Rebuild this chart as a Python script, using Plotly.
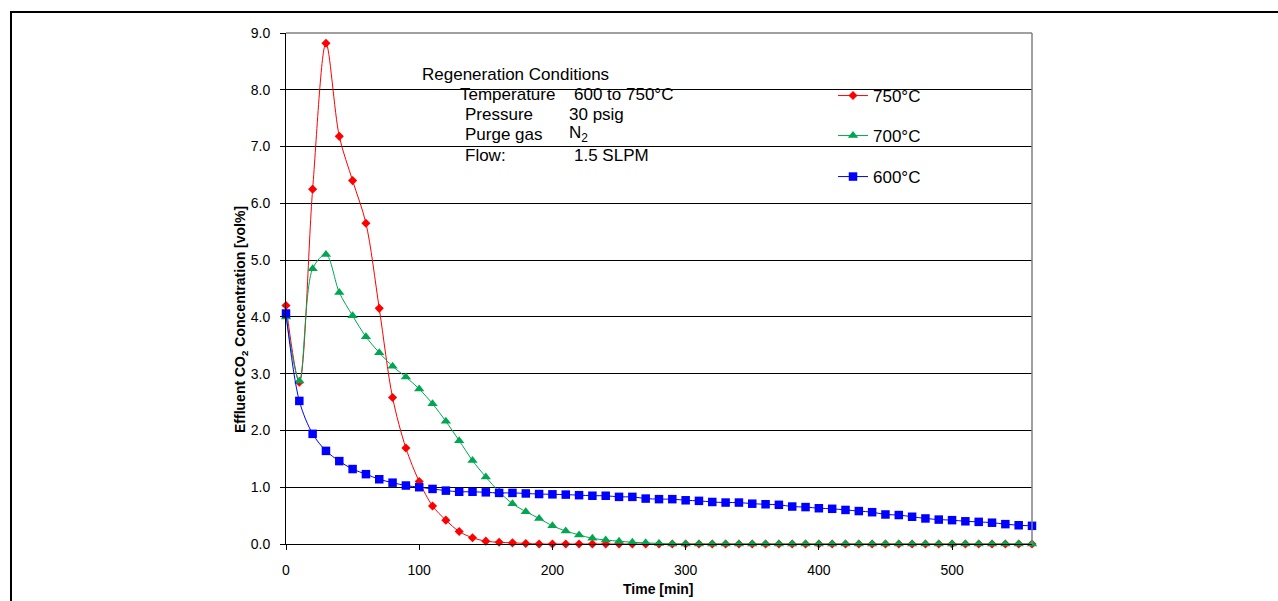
import plotly.graph_objects as go

# ---------------- data ----------------
time_min = [0, 10, 20, 30, 40, 50, 60, 70, 80, 90,
            100, 110, 120, 130, 140, 150, 160, 170, 180, 190,
            200, 210, 220, 230, 240, 250, 260, 270, 280, 290,
            300, 310, 320, 330, 340, 350, 360, 370, 380, 390,
            400, 410, 420, 430, 440, 450, 460, 470, 480, 490,
            500, 510, 520, 530, 540, 550, 560]

co2_750 = [4.20, 2.85, 6.25, 8.82, 7.18, 6.40, 5.65, 4.15, 2.58, 1.69,
           1.10, 0.67, 0.42, 0.22, 0.11, 0.05, 0.03, 0.02, 0.01, 0.0,
           0.0, 0.0, 0.0, 0.0, 0.0, 0.0, 0.0, 0.0, 0.0, 0.0,
           0.0, 0.0, 0.0, 0.0, 0.0, 0.0, 0.0, 0.0, 0.0, 0.0,
           0.0, 0.0, 0.0, 0.0, 0.0, 0.0, 0.0, 0.0, 0.0, 0.0,
           0.0, 0.0, 0.0, 0.0, 0.0, 0.0, 0.0]

co2_700 = [4.00, 2.87, 4.85, 5.10, 4.43, 4.02, 3.65, 3.37, 3.13, 2.94,
           2.73, 2.47, 2.16, 1.82, 1.47, 1.18, 0.92, 0.71, 0.57, 0.45,
           0.32, 0.23, 0.16, 0.10, 0.07, 0.05, 0.03, 0.02, 0.01, 0.0,
           0.0, 0.0, 0.0, 0.0, 0.0, 0.0, 0.0, 0.0, 0.0, 0.0,
           0.0, 0.0, 0.0, 0.0, 0.0, 0.0, 0.0, 0.0, 0.0, 0.0,
           0.0, 0.0, 0.0, 0.0, 0.0, 0.0, 0.0]

co2_600 = [4.06, 2.52, 1.94, 1.64, 1.46, 1.32, 1.23, 1.14, 1.08, 1.03,
           1.00, 0.97, 0.94, 0.92, 0.92, 0.91, 0.90, 0.90, 0.89, 0.88,
           0.875, 0.87, 0.86, 0.85, 0.85, 0.83, 0.83, 0.80, 0.79, 0.79,
           0.77, 0.76, 0.74, 0.73, 0.73, 0.71, 0.70, 0.69, 0.66, 0.65,
           0.63, 0.62, 0.60, 0.58, 0.56, 0.52, 0.51, 0.48, 0.45, 0.43,
           0.42, 0.40, 0.39, 0.375, 0.35, 0.33, 0.32]

series_names = ["750°C", "700°C", "600°C"]
x_ticks = [0, 100, 200, 300, 400, 500]
y_ticks = [0, 1, 2, 3, 4, 5, 6, 7, 8, 9]

box_title = "Regeneration Conditions"
box_labels = ["Temperature", "Pressure", "Purge gas", "Flow:"]
box_values = ["600 to 750°C", "30 psig", "N<sub>2</sub>", "1.5 SLPM"]

# ---------------- layout helpers ----------------
W, H = 1278, 601
L, R, T, B = 286, 1032, 33, 544
FONT = "Arial, 'Liberation Sans', sans-serif"


def px(xp):
    return (xp - L) / (R - L)


def py(yp):
    return (B - yp) / (B - T)


fig = go.Figure()

styles = [
    dict(color="#FF0000", symbol="diamond", size=7, legend="legend"),
    dict(color="#00A651", symbol="triangle-up", size=9, legend="legend2"),
    dict(color="#0000FF", symbol="square", size=8.5, legend="legend3"),
]
for name, vals, st in zip(series_names, [co2_750, co2_700, co2_600], styles):
    fig.add_trace(go.Scatter(
        x=time_min, y=vals, name=name, mode="lines+markers",
        line=dict(color=st["color"], width=1, shape="spline", smoothing=0.9),
        marker=dict(color=st["color"], symbol=st["symbol"], size=st["size"],
                    line=dict(width=0)),
        cliponaxis=False, legend=st["legend"],
    ))

legend_common = dict(xanchor="left", yanchor="middle", bgcolor="rgba(0,0,0,0)",
                     font=dict(family=FONT, size=17, color="black"),
                     borderwidth=0)
legend_y = [96, 136, 177]

fig.update_layout(
    width=W, height=H,
    margin=dict(l=L, r=W - R, t=T, b=H - B, pad=0),
    paper_bgcolor="white", plot_bgcolor="white",
    font=dict(family=FONT, size=14, color="black"),
    legend=dict(x=px(833), y=py(legend_y[0]), **legend_common),
    legend2=dict(x=px(833), y=py(legend_y[1]), **legend_common),
    legend3=dict(x=px(833), y=py(legend_y[2]), **legend_common),
    xaxis=dict(range=[0, 560], tickvals=x_ticks, ticks="outside", ticklen=5,
               tickcolor="black", showline=True, linecolor="black", linewidth=1,
               showgrid=False, zeroline=False, ticklabelstandoff=8,
               tickfont=dict(family=FONT, size=14)),
    yaxis=dict(range=[0, 9], tickvals=y_ticks, tickformat=".1f", ticks="outside",
               ticklen=5, tickcolor="black", showline=True, linecolor="black",
               linewidth=1, showgrid=True, gridcolor="black", gridwidth=1,
               zeroline=False, ticklabelstandoff=7,
               tickfont=dict(family=FONT, size=14)),
    showlegend=True,
)

shapes = [
    # white box behind the conditions text (hides grid lines)
    dict(type="rect", xref="paper", yref="paper", x0=px(416), x1=px(758),
         y0=py(168), y1=py(60), fillcolor="white", line=dict(width=0),
         layer="between"),
    # plot area right and top border
    dict(type="line", xref="paper", yref="paper", x0=1, x1=1, y0=0, y1=1,
         line=dict(color="#808080", width=1.5)),
    dict(type="line", xref="paper", yref="paper", x0=0, x1=1, y0=1, y1=1,
         line=dict(color="#808080", width=1.5)),
    # outer chart border
    dict(type="rect", xref="paper", yref="paper", x0=px(11), x1=px(1300),
         y0=py(620), y1=py(12), line=dict(color="black", width=2),
         fillcolor="rgba(0,0,0,0)"),
]
fig.update_layout(shapes=shapes)

annotations = [
    dict(text=box_title, x=px(420), y=py(74)),
]
label_x = [458, 463, 463, 463]
value_x = [572, 567, 567, 572]
row_y = [94, 114, 134, 155]
for lab, val, lx, vx, ry in zip(box_labels, box_values, label_x, value_x, row_y):
    annotations.append(dict(text=lab, x=px(lx), y=py(ry)))
    annotations.append(dict(text=val, x=px(vx), y=py(ry)))
for a in annotations:
    a.update(xref="paper", yref="paper", xanchor="left", yanchor="middle",
             showarrow=False, font=dict(family=FONT, size=17, color="black"))

annotations.append(dict(text="<b>Time [min]</b>", x=px(658), y=py(589),
                        xref="paper", yref="paper", xanchor="center",
                        yanchor="middle", showarrow=False,
                        font=dict(family=FONT, size=14, color="black")))
annotations.append(dict(text="<b>Effluent CO<sub>2</sub> Concentration [vol%]</b>",
                        x=px(241), y=py(320), xref="paper", yref="paper",
                        xanchor="center", yanchor="middle", textangle=-90,
                        showarrow=False,
                        font=dict(family=FONT, size=14, color="black")))
fig.update_layout(annotations=annotations)

fig.write_html("out.html")
